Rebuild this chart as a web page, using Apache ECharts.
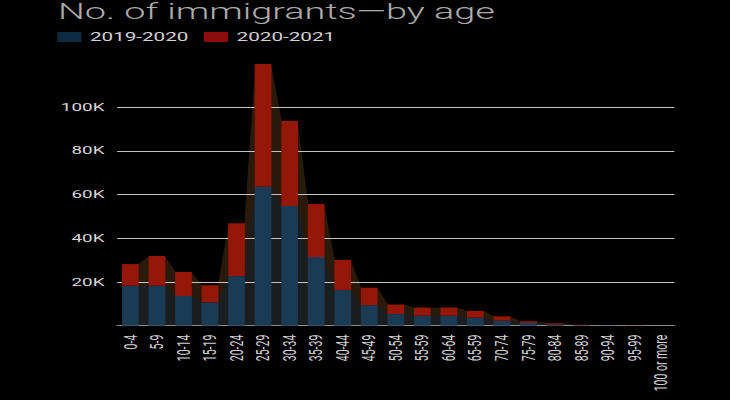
<!DOCTYPE html>
<html>
<head>
<meta charset="utf-8">
<title>No. of immigrants—by age</title>
<script src="https://cdn.jsdelivr.net/npm/echarts@6/dist/echarts.min.js"></script>
<style>
  html, body { margin: 0; padding: 0; background: #000; overflow: hidden; }
  #chart { height: 400px; transform-origin: 0 0; }
</style>
</head>
<body>
<div id="chart"></div>
<script>
// the reference is a horizontally stretched render, so draw narrow and stretch
const STRETCH = 1.72;

const ageGroups = ['0-4', '5-9', '10-14', '15-19', '20-24', '25-29', '30-34', '35-39', '40-44', '45-49',
  '50-54', '55-59', '60-64', '65-59', '70-74', '75-79', '80-84', '85-89', '90-94', '95-99', '100 or more'];
const immigrants2019 = [18300, 18300, 13600, 10700, 22700, 63600, 54800, 31400, 16300, 9400,
  5300, 4600, 4600, 3700, 2300, 1200, 600, 200, 60, 20, 10];
const immigrants2020 = [9900, 13600, 11000, 7800, 24200, 56200, 38900, 24300, 13800, 8000,
  4400, 3700, 3700, 3100, 2000, 800, 500, 200, 60, 20, 10];
const yTicks = [0, 20000, 40000, 60000, 80000, 100000, 120000];

const BAR_RATIO = 0.63;
const FONT = 'Roboto, "Noto Sans", sans-serif';

const elem = document.getElementById('chart');
elem.style.width = (730 / STRETCH) + 'px';
elem.style.transform = 'scaleX(' + STRETCH + ')';

// filled bands between neighbouring bars, from corner to corner
const gapData = [];
for (let i = 0; i < ageGroups.length - 1; i++) {
  gapData.push([
    i,
    immigrants2019[i],
    immigrants2019[i] + immigrants2020[i],
    immigrants2019[i + 1],
    immigrants2019[i + 1] + immigrants2020[i + 1]
  ]);
}

function renderGap(params, api){
  const i = api.value(0);
  const half = api.size([1, 0])[0] * BAR_RATIO / 2 - 0.3;
  const base0 = api.coord([i, 0]);
  const base1 = api.coord([i + 1, 0]);
  const x0 = base0[0] + half;
  const x1 = base1[0] - half;
  const low0 = api.coord([i, api.value(1)])[1];
  const top0 = api.coord([i, api.value(2)])[1];
  const low1 = api.coord([i + 1, api.value(3)])[1];
  const top1 = api.coord([i + 1, api.value(4)])[1];
  return {
    type: 'group',
    children: [
      {
        type: 'polygon',
        shape: {points: [[x0, base0[1]], [x0, top0], [x1, top1], [x1, base1[1]]]},
        style: {fill: '#2a1a0c'}
      },
      {
        type: 'polygon',
        shape: {points: [[x0, base0[1]], [x0, low0], [x1, low1], [x1, base1[1]]]},
        style: {fill: '#1b1e21'}
      }
    ]
  };
}

const chart = echarts.init(elem, null, {renderer: 'svg'});
chart.setOption({
  backgroundColor: '#000',
  animation: false,
  title: {
    text: 'No. of immigrants—by age',
    left: 33.7,
    top: 1,
    padding: 0,
    textStyle: {fontFamily: FONT, fontSize: 22, fontWeight: 300, color: '#ababab'}
  },
  legend: {
    left: 33.3,
    top: 31,
    padding: 0,
    icon: 'rect',
    itemWidth: 14,
    itemHeight: 10,
    itemGap: 9,
    textStyle: {fontFamily: FONT, fontSize: 12, color: '#d2d2d2'},
    data: [
      {name: '2019-2020', itemStyle: {color: '#0f2b41'}},
      {name: '2020-2021', itemStyle: {color: '#8c0d0b'}}
    ]
  },
  grid: {left: 68.1, right: 31.9, top: 63.5, bottom: 74.3},
  xAxis: {
    type: 'category',
    data: ageGroups,
    axisLine: {lineStyle: {color: '#8a8a8a', width: 1}},
    axisTick: {alignWithLabel: true, length: 4, lineStyle: {color: '#8a8a8a'}},
    axisLabel: {
      rotate: 90,
      margin: 9,
      interval: 0,
      fontFamily: FONT,
      fontSize: 10.5,
      color: '#d2d2d2'
    }
  },
  yAxis: {
    type: 'value',
    min: yTicks[0],
    max: yTicks[yTicks.length - 1],
    interval: yTicks[1] - yTicks[0],
    axisLine: {show: false},
    axisTick: {show: false},
    axisLabel: {
      margin: 7.3,
      fontFamily: FONT,
      fontSize: 11,
      color: '#d6d6d6',
      formatter: v => (v === yTicks[0] || v === yTicks[yTicks.length - 1]) ? '' : (v / 1000) + 'K'
    },
    splitLine: {
      lineStyle: {
        width: 1.2,
        color: ['transparent', '#c4c4c4', '#c4c4c4', '#c4c4c4', '#c4c4c4', '#c4c4c4', 'transparent']
      }
    }
  },
  series: [
    {
      type: 'custom',
      name: 'gaps',
      z: -1,
      silent: true,
      renderItem: renderGap,
      encode: {x: 0, y: [1, 2, 3, 4]},
      data: gapData
    },
    {
      type: 'bar',
      name: '2019-2020',
      stack: 'total',
      barWidth: (BAR_RATIO * 100) + '%',
      itemStyle: {color: '#1b3a53'},
      data: immigrants2019
    },
    {
      type: 'bar',
      name: '2020-2021',
      stack: 'total',
      itemStyle: {color: '#951708'},
      data: immigrants2020
    }
  ]
});
</script>
</body>
</html>
